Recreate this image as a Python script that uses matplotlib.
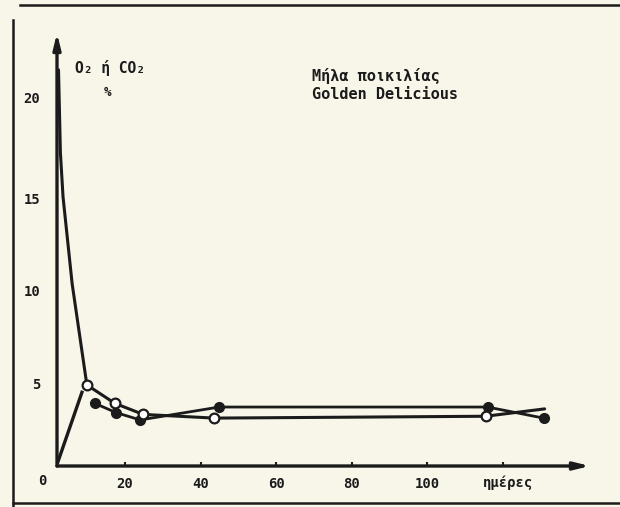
import matplotlib
matplotlib.use("Agg")
import matplotlib.pyplot as plt
from matplotlib.lines import Line2D
import numpy as np

# ── data ────────────────────────────────────────────────────────────────
# O2 : descending curve, open circles
o2_days = [2.4, 2.9, 3.6, 6.0, 9.9, 17.3, 24.8, 43.6, 115.4, 131.0]
o2_vals = [21.5, 17.0, 14.6, 9.9, 4.4, 3.4, 2.8, 2.6, 2.7, 3.1]
o2_mark = [4, 5, 6, 7, 8]          # points drawn with a marker

# CO2 : rising start, then filled dots
co2_rise_days = [2.2, 8.6]
co2_rise_vals = [0.2, 4.0]
co2_days = [12.0, 17.6, 24.0, 44.9, 115.9, 130.7]
co2_vals = [3.4, 2.9, 2.5, 3.2, 3.2, 2.6]

x_ticks = [20, 40, 60, 80, 100, 120]
x_labels = ["20", "40", "60", "80", "100", ""]
y_tick_pos = [4.5, 9.5, 14.5, 20]
y_labels = ["5", "10", "15", "20"]

BG = "#f8f6e9"
INK = "#1b1b1b"
FONT = ["DejaVu Sans Mono", "DejaVu Sans"]

W, H = 620, 507


def px(x, y):
    return x / W, 1 - y / H


fig = plt.figure(figsize=(6.2, 5.07), dpi=100, facecolor=BG)
ax = fig.add_axes([57 / W, 1 - 466 / H, (590 - 57) / W, (466 - 33) / H])
ax.set_facecolor(BG)
ax.patch.set_alpha(0)

ax.set_xlim(2, 143)
ax.set_ylim(0, 23.5)
for s in ax.spines.values():
    s.set_visible(False)

# axes drawn as arrows
arrow = dict(arrowstyle="-|>,head_length=0.9,head_width=0.22",
             lw=2.4, color=INK, shrinkA=0, shrinkB=0)
ax.annotate("", xy=(1, 0), xytext=(0, 0), xycoords="axes fraction",
            arrowprops=arrow)
ax.annotate("", xy=(0, 1), xytext=(0, 0), xycoords="axes fraction",
            arrowprops=arrow)

ax.set_xticks(x_ticks)
ax.set_xticklabels(x_labels)
ax.set_yticks(y_tick_pos)
ax.set_yticklabels(y_labels)
ax.tick_params(axis="x", direction="in", length=3, width=1.5, color=INK,
               pad=8, labelsize=10, labelcolor=INK)
ax.tick_params(axis="y", length=0, pad=12, labelsize=10, labelcolor=INK)
for lab in ax.get_xticklabels() + ax.get_yticklabels():
    lab.set_family(FONT)
    lab.set_fontweight("bold")

# O2 curve
ax.plot(o2_days, o2_vals, color=INK, lw=2.2, solid_capstyle="round",
        zorder=3)
ax.plot([o2_days[i] for i in o2_mark], [o2_vals[i] for i in o2_mark],
        ls="none", marker="o", ms=7, mfc="white", mec=INK, mew=1.6,
        zorder=5)

# CO2 curve
ax.plot(co2_rise_days, co2_rise_vals, color=INK, lw=2.4, zorder=3)
ax.plot(co2_days, co2_vals, color=INK, lw=2.0, marker="o", ms=7,
        mfc=INK, mec=INK, zorder=4)

# texts
tkw = dict(family=FONT, fontweight="bold", color=INK)
fig.text(*px(42, 481), "0", ha="center", va="center", fontsize=10, **tkw)
fig.text(*px(75, 68), "O₂ ή CO₂", ha="left", va="center", fontsize=10.5,
         **tkw)
fig.text(*px(107, 93), "%", ha="center", va="center", fontsize=9, **tkw)
fig.text(*px(312, 76), "Μήλα ποικιλίας", ha="left", va="center",
         fontsize=11, **tkw)
fig.text(*px(312, 94), "Golden Delicious", ha="left", va="center",
         fontsize=11, **tkw)
fig.text(*px(508, 483), "ημέρες", ha="center", va="center", fontsize=10,
         **tkw)

# outer frame of the scanned figure
for xs, ys in [((13, 13), (20, 507)), ((20, 620), (5, 5)),
               ((13, 620), (503, 503))]:
    fig.add_artist(Line2D([x / W for x in xs], [1 - y / H for y in ys],
                          color=INK, lw=1.8))

fig.savefig("out.png", dpi=100, facecolor=BG)
